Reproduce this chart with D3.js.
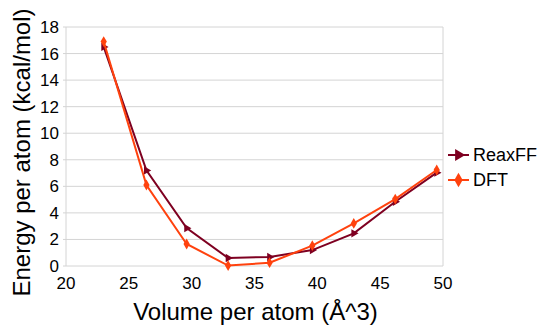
<!DOCTYPE html>
<html><head><meta charset="utf-8">
<script src="https://cdn.jsdelivr.net/npm/d3@7"></script>
<style>body{margin:0;background:#fff}svg{display:block;font-family:"Liberation Sans",Arial,sans-serif}</style>
</head><body><svg id="c" width="540" height="326"></svg>
<script>
const volumes = [23.0, 26.4, 29.6, 32.9, 36.2, 39.6, 42.9, 46.2, 49.5];
const reaxff = [16.5, 7.2, 2.85, 0.6, 0.68, 1.2, 2.46, 4.84, 7.03];
const dft = [16.9, 6.1, 1.66, 0.03, 0.25, 1.53, 3.21, 5.04, 7.23];
const xTicks = [20, 25, 30, 35, 40, 45, 50];
const yTicks = [0, 2, 4, 6, 8, 10, 12, 14, 16, 18];
const seriesNames = ["ReaxFF", "DFT"];
const colors = ["#7e0021", "#ff420e"];

const svg = d3.select("#c");
const L = 66, R = 443, T = 27, B = 266;
const x = d3.scaleLinear().domain([20, 50]).range([L, R]);
const y = d3.scaleLinear().domain([0, 18]).range([B, T]);

// gridlines
svg.append("g").selectAll("line").data(yTicks).join("line")
  .attr("x1", L - 3).attr("x2", R).attr("y1", d => y(d)).attr("y2", d => y(d))
  .attr("stroke", "#d4d4d4").attr("stroke-width", 1);
svg.append("line").attr("x1", L).attr("x2", L).attr("y1", T).attr("y2", B)
  .attr("stroke", "#d4d4d4");
svg.append("line").attr("x1", R).attr("x2", R).attr("y1", T).attr("y2", B)
  .attr("stroke", "#d4d4d4");

// y tick labels
svg.append("g").selectAll("text").data(yTicks).join("text")
  .attr("x", L - 7).attr("y", d => y(d)).attr("dy", "0.35em")
  .attr("text-anchor", "end").attr("font-size", 17).attr("fill", "#000").text(d => d);
// x tick labels
svg.append("g").selectAll("text").data(xTicks).join("text")
  .attr("x", d => x(d)).attr("y", 289)
  .attr("text-anchor", "middle").attr("font-size", 17).attr("fill", "#000").text(d => d);

// titles
svg.append("text").attr("x", 255.5).attr("y", 320).attr("text-anchor", "middle")
  .attr("font-size", 24).text("Volume per atom (Å^3)");
svg.append("text").attr("transform", `translate(30,152.5) rotate(-90)`)
  .attr("text-anchor", "middle").attr("font-size", 24).text("Energy per atom (kcal/mol)");

const line = d3.line().x(d => x(d[0])).y(d => y(d[1]));
const tri = d3.symbol().type(d3.symbolTriangle).size(30);
const dia = d3.symbol().type(d3.symbolDiamond).size(34);

function drawSeries(vals, col, marker, rot) {
  const pts = volumes.map((v, i) => [v, vals[i]]);
  svg.append("path").attr("d", line(pts)).attr("fill", "none")
    .attr("stroke", col).attr("stroke-width", 2);
  svg.append("g").selectAll("path").data(pts).join("path")
    .attr("d", marker())
    .attr("transform", d => `translate(${x(d[0])},${y(d[1])}) rotate(${rot})`)
    .attr("fill", col);
}
drawSeries(reaxff, colors[0], tri, 90);
drawSeries(dft, colors[1], dia, 0);

// legend
const lg = svg.append("g");
const legY = [155, 180];
seriesNames.forEach((n, i) => {
  lg.append("line").attr("x1", 448).attr("x2", 469).attr("y1", legY[i]).attr("y2", legY[i])
    .attr("stroke", colors[i]).attr("stroke-width", 2);
  lg.append("path").attr("d", (i === 0 ? d3.symbol().type(d3.symbolTriangle).size(60) : d3.symbol().type(d3.symbolDiamond).size(60))())
    .attr("transform", `translate(458.5,${legY[i]}) rotate(${i === 0 ? 90 : 0})`).attr("fill", colors[i]);
  lg.append("text").attr("x", 473).attr("y", legY[i]).attr("dy", "0.35em")
    .attr("font-size", 18).text(n);
});
</script></body></html>
